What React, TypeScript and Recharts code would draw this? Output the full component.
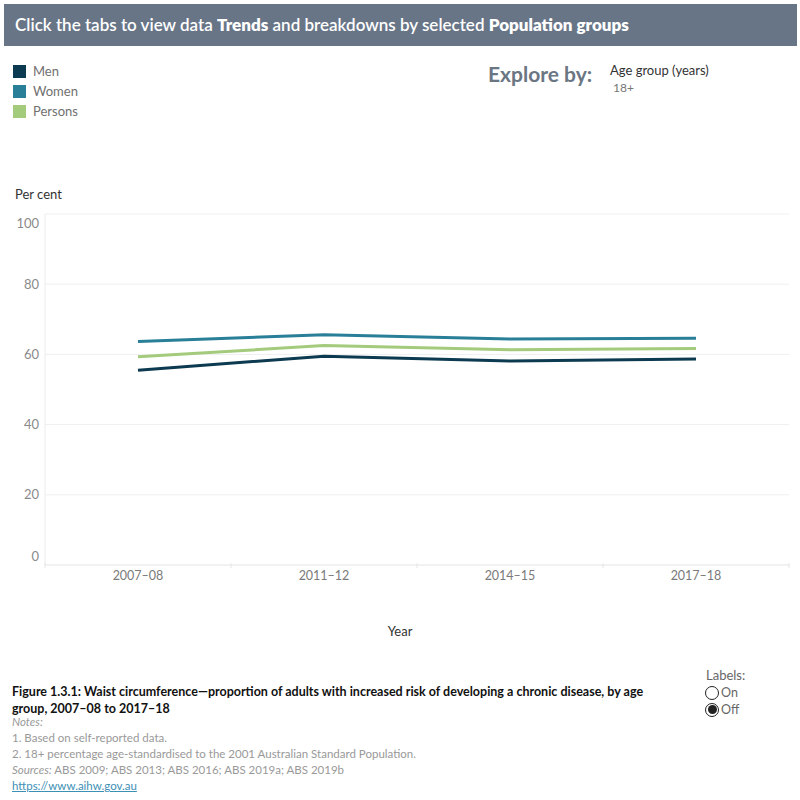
import React from "react";
import { LineChart, Line, XAxis, YAxis, CartesianGrid } from "recharts";

const years = ["2007–08", "2011–12", "2014–15", "2017–18"];
const men = [55.5, 59.5, 58.1, 58.7];
const women = [63.7, 65.6, 64.4, 64.6];
const persons = [59.3, 62.5, 61.3, 61.7];
const yTicks = [0, 20, 40, 60, 80, 100];

const seriesNames = ["Men", "Women", "Persons"];
const seriesColors = ["#0c3a51", "#2a7f98", "#a3cb7b"];

const data = years.map((year, i) => ({
  year,
  Men: men[i],
  Women: women[i],
  Persons: persons[i],
}));

const FONT = "Lato, 'Open Sans', sans-serif";

// Y labels: the extreme ones are nudged inward so they stay inside the plot
const YTick = (props: any) => {
  const { x, y, payload } = props;
  const v = payload.value;
  const dy = v === 0 ? -9 : v === 100 ? 9 : 0;
  return (
    <text
      x={x}
      y={y + dy}
      dy="0.35em"
      textAnchor="end"
      fill="#8a8a8a"
      fontSize={13}
      fontFamily={FONT}
    >
      {v}
    </text>
  );
};

// X labels with small separators at the band edges
const XTick = (props: any) => {
  const { x, y, payload, index, visibleTicksCount } = props;
  const half = payload.offset || 0;
  const axisY = y - 8;
  const isLast = index === visibleTicksCount - 1;
  return (
    <g>
      <line x1={x - half} x2={x - half} y1={axisY} y2={axisY + 5} stroke="#e6e6e6" />
      {isLast && <line x1={x + half} x2={x + half} y1={axisY} y2={axisY + 5} stroke="#e6e6e6" />}
      <text x={x} y={y} dy="0.71em" textAnchor="middle" fill="#7a7a7a" fontSize={12.5} fontFamily={FONT}>
        {payload.value}
      </text>
    </g>
  );
};

export default function App() {
  return (
    <div
      style={{
        position: "absolute",
        left: 0,
        top: 0,
        width: 800,
        height: 800,
        background: "#fff",
        fontFamily: FONT,
        overflow: "hidden",
      }}
    >
      {/* header banner */}
      <div
        style={{
          position: "absolute",
          left: 4,
          top: 4,
          width: 793,
          height: 42,
          background: "#687587",
          color: "#fff",
          fontSize: 17,
          lineHeight: "41px",
          paddingLeft: 11,
          boxSizing: "border-box",
          fontWeight: 600,
          whiteSpace: "nowrap",
        }}
      >
        Click the tabs to view data <b style={{ fontWeight: 800 }}>Trends</b> and breakdowns by selected{" "}
        <b style={{ fontWeight: 800 }}>Population groups</b>
      </div>

      {/* legend */}
      {seriesNames.map((name, i) => (
        <div
          key={name}
          style={{
            position: "absolute",
            left: 13,
            top: 64 + i * 20,
            height: 14,
            display: "flex",
            alignItems: "center",
          }}
        >
          <div style={{ width: 13, height: 13, background: seriesColors[i] }} />
          <span style={{ marginLeft: 7, fontSize: 13, color: "#707070" }}>{name}</span>
        </div>
      ))}

      {/* explore by */}
      <div
        style={{
          position: "absolute",
          left: 488,
          top: 61,
          fontSize: 21,
          fontWeight: 700,
          color: "#6b7683",
        }}
      >
        Explore by:
      </div>
      <div style={{ position: "absolute", left: 610, top: 62, fontSize: 13, color: "#333" }}>
        Age group (years)
      </div>
      <div style={{ position: "absolute", left: 613, top: 80, fontSize: 12, color: "#777" }}>18+</div>

      {/* axis titles */}
      <div style={{ position: "absolute", left: 15, top: 186, fontSize: 13, color: "#333" }}>Per cent</div>
      <div
        style={{
          position: "absolute",
          left: 0,
          width: 800,
          textAlign: "center",
          top: 623,
          fontSize: 13,
          color: "#333",
        }}
      >
        Year
      </div>

      <div style={{ position: "absolute", left: 0, top: 0 }}>
        <LineChart
          width={800}
          height={800}
          data={data}
          margin={{ top: 214, right: 11, bottom: 205, left: 0 }}
        >
          <CartesianGrid vertical={false} stroke="#efefef" strokeWidth={1} />
          <XAxis
            dataKey="year"
            scale="band"
            height={30}
            axisLine={{ stroke: "#ececec" }}
            tickLine={false}
            tick={<XTick />}
            tickMargin={0}
            interval={0}
          />
          <YAxis
            domain={[0, 100]}
            ticks={yTicks}
            width={45}
            axisLine={{ stroke: "#ececec" }}
            tickLine={false}
            tick={<YTick />}
            tickMargin={0}
            interval={0}
          />
          {seriesNames.map((name, i) => (
            <Line
              key={name}
              dataKey={name}
              stroke={seriesColors[i]}
              strokeWidth={3}
              dot={false}
              activeDot={false}
              isAnimationActive={false}
            />
          ))}
        </LineChart>
      </div>

      {/* caption and notes */}
      <div
        style={{
          position: "absolute",
          left: 12,
          top: 683,
          width: 660,
          fontSize: 12.5,
          fontWeight: 700,
          color: "#111",
          lineHeight: "17px",
        }}
      >
        Figure 1.3.1: Waist circumference—proportion of adults with increased risk of developing a chronic disease, by age
        group, 2007–08 to 2017–18
      </div>
      <div
        style={{
          position: "absolute",
          left: 12,
          top: 714,
          fontSize: 11.5,
          color: "#999",
          lineHeight: "16px",
        }}
      >
        <div style={{ fontStyle: "italic" }}>Notes:</div>
        <div>1. Based on self-reported data.</div>
        <div>2. 18+ percentage age-standardised to the 2001 Australian Standard Population.</div>
        <div>
          <i>Sources:</i> ABS 2009; ABS 2013; ABS 2016; ABS 2019a; ABS 2019b
        </div>
        <div style={{ color: "#3d8fb5", textDecoration: "underline" }}>https://www.aihw.gov.au</div>
      </div>

      {/* labels toggle */}
      <div style={{ position: "absolute", left: 706, top: 667, fontSize: 13, color: "#666" }}>Labels:</div>
      {["On", "Off"].map((opt, i) => (
        <div
          key={opt}
          style={{
            position: "absolute",
            left: 705,
            top: 685 + i * 17,
            display: "flex",
            alignItems: "center",
            fontSize: 12.5,
            color: "#666",
          }}
        >
          <div
            style={{
              width: 14,
              height: 14,
              borderRadius: "50%",
              border: "1.3px solid #222",
              boxSizing: "border-box",
              display: "flex",
              alignItems: "center",
              justifyContent: "center",
            }}
          >
            {i === 1 && <div style={{ width: 9, height: 9, borderRadius: "50%", background: "#222" }} />}
          </div>
          <span style={{ marginLeft: 2 }}>{opt}</span>
        </div>
      ))}
    </div>
  );
}
